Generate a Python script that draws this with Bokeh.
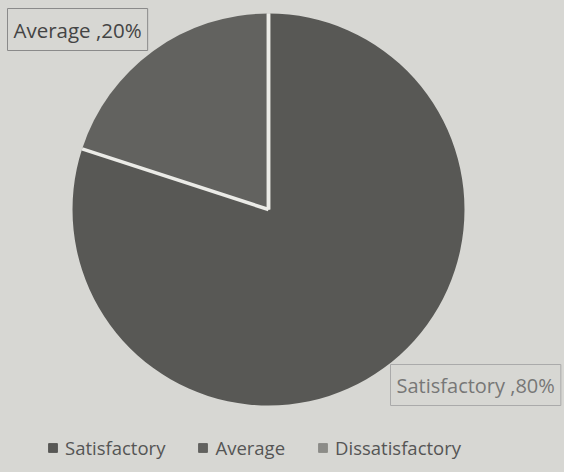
import math
from bokeh.plotting import figure
from bokeh.models import ColumnDataSource, Legend, LegendItem, Label, Range1d
from bokeh.embed import file_html
from bokeh.resources import INLINE

categories = ["Satisfactory", "Average", "Dissatisfactory"]
shares = [80, 20, 0]
colors = ["#585855", "#62625f", "#8c8c88"]
label_texts = ["Satisfactory ,80%", "Average ,20%"]

W, H = 564, 472
BG = "#d7d7d3"

# clockwise from 12 o'clock, Excel style
total = sum(shares)
starts, ends = [], []
cur = math.pi / 2
for s in shares:
    a = 2 * math.pi * s / total
    ends.append(cur)
    starts.append(cur - a)
    cur -= a

p = figure(width=W, height=H, output_backend="svg", toolbar_location=None,
           x_range=Range1d(0, W), y_range=Range1d(0, H), min_border=0,
           background_fill_color=BG, border_fill_color=BG)
p.axis.visible = False
p.grid.visible = False
p.outline_line_color = None

cx, cy, r = 268, 263, 196
nz = [i for i in range(len(shares)) if shares[i] > 0]
wsrc = ColumnDataSource(dict(start=[starts[i] for i in nz], end=[ends[i] for i in nz],
                             color=[colors[i] for i in nz]))
p.wedge(x=cx, y=cy, radius=r, start_angle="start", end_angle="end",
        fill_color="color", line_color=None, source=wsrc)

# slice separators along each boundary angle
bangles = sorted(set(round(a, 9) for i in nz for a in (starts[i], ends[i])))
p.segment(x0=[cx] * len(bangles), y0=[cy] * len(bangles),
          x1=[cx + r * math.cos(a) for a in bangles],
          y1=[cy + r * math.sin(a) for a in bangles],
          line_color="#ebebe7", line_width=3.5)

nan = float("nan")
items = []
for i, c in enumerate(categories):
    rr = p.quad(left=[nan], right=[nan], top=[nan], bottom=[nan],
                fill_color=colors[i], line_color=colors[i])
    items.append(LegendItem(label=c, renderers=[rr]))

legend = Legend(items=items, orientation="horizontal", location=(47, 12),
                background_fill_alpha=0, border_line_color=None,
                label_text_font="Open Sans", label_text_font_size="18.5px",
                label_text_color="#555555", glyph_width=11, glyph_height=11,
                spacing=32, label_standoff=7)
p.add_layout(legend, "center")

lab1 = Label(x=7, y=422, x_units="screen", y_units="screen", text=label_texts[1],
             text_font="Open Sans", text_font_size="20.5px", text_color="#444444",
             border_line_color="#8a8a8a", border_line_width=1,
             background_fill_color=BG, padding=(6, 7))
p.add_layout(lab1)
lab2 = Label(x=390, y=67, x_units="screen", y_units="screen", text=label_texts[0],
             text_font="Open Sans", text_font_size="20px", text_color="#777777",
             border_line_color="#aaaaaa", border_line_width=1,
             background_fill_color=BG, padding=(6, 7))
p.add_layout(lab2)

html = file_html(p, INLINE)
html = html.replace("</head>", "<style>body{background:%s;}</style></head>" % BG, 1)
open("out.html", "w").write(html)
